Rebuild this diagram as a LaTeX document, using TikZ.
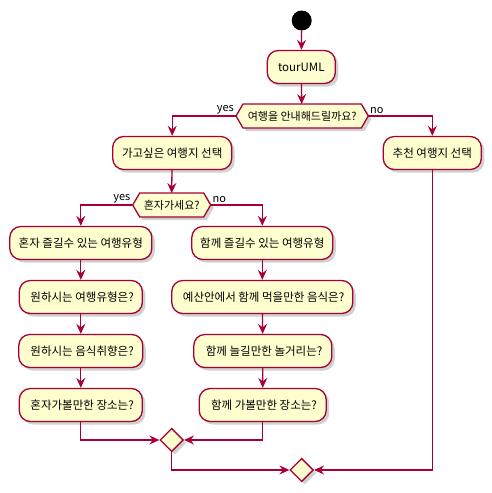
\documentclass[tikz,border=0pt]{standalone}
\usepackage{fontspec}
\setmainfont{Noto Sans CJK KR}
\usetikzlibrary{shapes.geometric,arrows.meta,shadows}
\definecolor{umlred}{HTML}{A80036}
\definecolor{umlfill}{HTML}{FEFECE}
\tikzset{
  shad/.style={drop shadow={shadow xshift=3pt,shadow yshift=-3pt,opacity=0.3,fill=black!60}},
  actbox/.style={draw=umlred,fill=umlfill,line width=1.3pt,rounded corners=11pt,
    minimum height=33pt,inner sep=0pt,font=\fontsize{11.5}{13}\selectfont,shad},
  hexa/.style={draw=umlred,fill=umlfill,line width=1.3pt,shad},
  merge/.style={diamond,draw=umlred,fill=umlfill,line width=1.3pt,aspect=1,
    minimum width=23.4pt,minimum height=23.4pt,inner sep=0pt,shad},
  conn/.style={draw=umlred,line width=1.3pt,-{Stealth[length=10pt,width=9pt,inset=3.5pt]}},
  branchlbl/.style={font=\fontsize{11}{12}\selectfont,inner sep=1pt},
  qtext/.style={font=\fontsize{11}{12}\selectfont},
}
\begin{document}
\begin{tikzpicture}[x=1pt,y=-1pt]
\useasboundingbox (0,0) rectangle (491,493);
% start
\node[circle,fill=black,minimum size=20pt,inner sep=0pt] (start) at (301.7,20.5) {};
% tourUML
\node[actbox,minimum width=68pt] (tour) at (301.3,67) {tourUML};
% decision 1 hexagon
\path[hexa] (236,116) -- (243,104) -- (361.3,104) -- (368.3,116) -- (361.3,128) -- (243,128) -- cycle;
\node[qtext] (q1) at (302.2,116) {여행을 안내해드릴까요?};
\coordinate (q1w) at (236,116);
\coordinate (q1e) at (368.3,116);
\coordinate (q1n) at (301.7,104);
\node[branchlbl,anchor=south east] (q1yes) at (235,115) {yes};
\node[branchlbl,anchor=south west] (q1no) at (369,115) {no};
% level 1
\node[actbox,minimum width=119pt] (go) at (172.2,153) {가고싶은 여행지 선택};
\node[actbox,minimum width=98pt] (rec) at (432.3,153) {추천 여행지 선택};
% decision 2
\path[hexa] (132.7,205) -- (139.7,193) -- (203.7,193) -- (210.7,205) -- (203.7,217) -- (139.7,217) -- cycle;
\node[qtext] (q2) at (171.7,205) {혼자가세요?};
\coordinate (q2w) at (132.7,205);
\coordinate (q2e) at (210.7,205);
\coordinate (q2n) at (171.7,193);
\node[branchlbl,anchor=south east] (q2yes) at (131.5,204) {yes};
\node[branchlbl,anchor=south west] (q2no) at (211.5,204) {no};
% left column
\node[actbox,minimum width=142pt] (a1) at (80.8,243) {혼자 즐길수 있는 여행유형};
\node[actbox,minimum width=123pt] (a2) at (80.8,297) {\ 원하시는 여행유형은?};
\node[actbox,minimum width=124pt] (a3) at (80.8,351) {\ 원하시는 음식취향은?};
\node[actbox,minimum width=123pt] (a4) at (80.8,405) {\ 혼자가볼만한 장소는?};
% right column
\node[actbox,minimum width=141pt] (b1) at (262.3,243) {함께 즐길수 있는 여행유형};
\node[actbox,minimum width=181pt] (b2) at (262.3,297) {\ 예산안에서 함께 먹을만한 음식은?};
\node[actbox,minimum width=138pt] (b3) at (262.8,351) {\ 함께 늘길만한 놀거리는?};
\node[actbox,minimum width=127pt] (b4) at (262.7,405) {\ 함께 가볼만한 장소는?};
% merges
\node[merge] (m1) at (171.7,440) {};
\node[merge] (m2) at (301.7,470) {};
% connectors
\draw[conn] (start) -- (tour);
\draw[conn] (tour) -- (q1n);
\draw[conn] (q1w) -| (go.north);
\draw[conn] (q1e) -| (rec.north);
\draw[conn] (go) -- (q2n);
\draw[conn] (q2w) -| (a1.north);
\draw[conn] (q2e) -| (b1.north);
\draw[conn] (a1) -- (a2);
\draw[conn] (a2) -- (a3);
\draw[conn] (a3) -- (a4);
\draw[conn] (b1) -- (b2);
\draw[conn] (b2) -- (b3);
\draw[conn] (b3) -- (b4);
\draw[conn] (a4.south) |- (m1.west);
\draw[conn] (b4.south) |- (m1.east);
\draw[conn] (m1.south) |- (m2.west);
\draw[conn] (rec.south) |- (m2.east);
\end{tikzpicture}
\end{document}
